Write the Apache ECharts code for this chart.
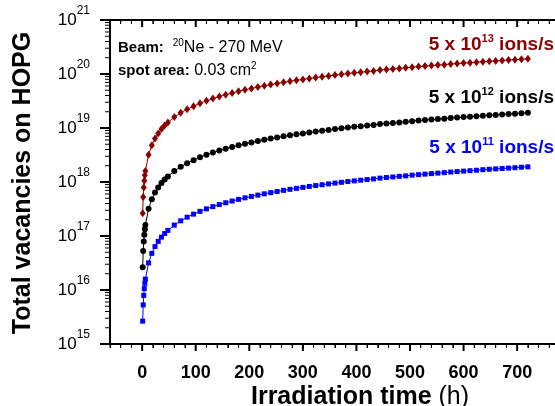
<!DOCTYPE html>
<html>
<head>
<meta charset="utf-8">
<script src="https://cdn.jsdelivr.net/npm/echarts@6/dist/echarts.min.js"></script>
<style>
  html, body { margin: 0; padding: 0; background: #fff; }
  #chart { width: 555px; height: 406px; }
</style>
</head>
<body>
<div id="chart"></div>
<script>
/* 数据：辐照时间 (h) */
const times = [1, 2, 3, 4, 5, 6, 12, 18, 24, 30, 36, 42, 48, 60, 72, 84, 96, 108, 120, 132, 144, 156, 168, 180, 192, 204, 216, 228, 240, 252, 264, 276, 288, 300, 312, 324, 336, 348, 360, 372, 384, 396, 408, 420, 432, 444, 456, 468, 480, 492, 504, 516, 528, 540, 552, 564, 576, 588, 600, 612, 624, 636, 648, 660, 672, 684, 696, 708, 720]

// 5 x 10^11 ions/s
const vac11 = [2.65e15, 5.30e15, 7.95e15, 1.06e16, 1.33e16, 1.59e16, 3.18e16, 4.77e16, 6.36e16, 7.95e16, 9.54e16, 1.11e17, 1.27e17, 1.59e17, 1.91e17, 2.23e17, 2.54e17, 2.86e17, 3.18e17, 3.50e17, 3.82e17, 4.13e17, 4.45e17, 4.77e17, 5.09e17, 5.41e17, 5.72e17, 6.04e17, 6.36e17, 6.68e17, 7.00e17, 7.31e17, 7.63e17, 7.95e17, 8.27e17, 8.59e17, 8.90e17, 9.22e17, 9.54e17, 9.86e17, 1.02e18, 1.05e18, 1.08e18, 1.11e18, 1.14e18, 1.18e18, 1.21e18, 1.24e18, 1.27e18, 1.30e18, 1.34e18, 1.37e18, 1.40e18, 1.43e18, 1.46e18, 1.49e18, 1.53e18, 1.56e18, 1.59e18, 1.62e18, 1.65e18, 1.69e18, 1.72e18, 1.75e18, 1.78e18, 1.81e18, 1.84e18, 1.88e18, 1.91e18]

// 5 x 10^12 ions/s
const vac12 = [2.65e16, 5.30e16, 7.95e16, 1.06e17, 1.33e17, 1.59e17, 3.18e17, 4.77e17, 6.36e17, 7.95e17, 9.54e17, 1.11e18, 1.27e18, 1.59e18, 1.91e18, 2.23e18, 2.54e18, 2.86e18, 3.18e18, 3.50e18, 3.82e18, 4.13e18, 4.45e18, 4.77e18, 5.09e18, 5.41e18, 5.72e18, 6.04e18, 6.36e18, 6.68e18, 7.00e18, 7.31e18, 7.63e18, 7.95e18, 8.27e18, 8.59e18, 8.90e18, 9.22e18, 9.54e18, 9.86e18, 1.02e19, 1.05e19, 1.08e19, 1.11e19, 1.14e19, 1.18e19, 1.21e19, 1.24e19, 1.27e19, 1.30e19, 1.34e19, 1.37e19, 1.40e19, 1.43e19, 1.46e19, 1.49e19, 1.53e19, 1.56e19, 1.59e19, 1.62e19, 1.65e19, 1.69e19, 1.72e19, 1.75e19, 1.78e19, 1.81e19, 1.84e19, 1.88e19, 1.91e19]

// 5 x 10^13 ions/s
const vac13 = [2.65e17, 5.30e17, 7.95e17, 1.06e18, 1.33e18, 1.59e18, 3.18e18, 4.77e18, 6.36e18, 7.95e18, 9.54e18, 1.11e19, 1.27e19, 1.59e19, 1.91e19, 2.23e19, 2.54e19, 2.86e19, 3.18e19, 3.50e19, 3.82e19, 4.13e19, 4.45e19, 4.77e19, 5.09e19, 5.41e19, 5.72e19, 6.04e19, 6.36e19, 6.68e19, 7.00e19, 7.31e19, 7.63e19, 7.95e19, 8.27e19, 8.59e19, 8.90e19, 9.22e19, 9.54e19, 9.86e19, 1.02e20, 1.05e20, 1.08e20, 1.11e20, 1.14e20, 1.18e20, 1.21e20, 1.24e20, 1.27e20, 1.30e20, 1.34e20, 1.37e20, 1.40e20, 1.43e20, 1.46e20, 1.49e20, 1.53e20, 1.56e20, 1.59e20, 1.62e20, 1.65e20, 1.69e20, 1.72e20, 1.75e20, 1.78e20, 1.81e20, 1.84e20, 1.88e20, 1.91e20]

// 刻度
const xMajorTicks = [0, 100, 200, 300, 400, 500, 600, 700]
const yMajorTicks = [1e15, 1e16, 1e17, 1e18, 1e19, 1e20, 1e21]
const yMinorMantissa = [2, 3, 4, 5, 6, 7, 8, 9]

const X_MIN = -60, X_MAX = 780
const Y_MIN = 1e15, Y_MAX = 1e21
const FONT = '"Liberation Sans", Arial, sans-serif'
const RED = '#8b0000', BLUE = '#0000ff'

// 次刻度：x 每 20 h，y 每个数量级 2..9
let xMinorTicks = []
for (let v = X_MIN; v <= X_MAX; v += 20) { if (v % 100 !== 0) xMinorTicks.push(v) }
let yMinorTicks = []
yMajorTicks.slice(0, -1).forEach(d => yMinorMantissa.forEach(m => yMinorTicks.push(m * d)))

const toPairs = vals => times.map((t, i) => [t, vals[i]])

const chart = echarts.init(document.getElementById('chart'), null, { renderer: 'canvas' })

const lineSeries = (vals, color, symbol, size) => ({
  type: 'line', data: toPairs(vals),
  symbol, symbolSize: size,
  lineStyle: { color, width: 1 },
  itemStyle: { color }
})

const bar = (x, y, width, height) => ({ type: 'rect', shape: { x, y, width, height }, style: { fill: '#000' } })

// 坐标框（底、顶、左）
const frameSeries = {
  type: 'custom', silent: true, clip: false,
  data: [[X_MIN, Y_MIN]],
  renderItem(params, api) {
    const lb = api.coord([X_MIN, Y_MIN])
    const rt = api.coord([X_MAX, Y_MAX])
    return {
      type: 'group',
      children: [
        bar(lb[0] - 1, lb[1] - 1, rt[0] - lb[0] + 2, 2),
        bar(lb[0] - 1, rt[1] - 1, rt[0] - lb[0] + 2, 2),
        bar(lb[0] - 1, rt[1] - 1, 2, lb[1] - rt[1] + 2)
      ]
    }
  }
}

// x 刻度：底部朝外，顶部朝内
const xTickSeries = (ticks, len, w) => ({
  type: 'custom', silent: true, clip: false,
  data: ticks.map(v => [v, Y_MIN]),
  renderItem(params, api) {
    const b = api.coord([api.value(0), Y_MIN])
    const t = api.coord([api.value(0), Y_MAX])
    return { type: 'group', children: [bar(b[0] - w / 2, b[1], w, len), bar(t[0] - w / 2, t[1], w, len)] }
  }
})

// y 刻度：左侧朝外
const yTickSeries = (ticks, len, w) => ({
  type: 'custom', silent: true, clip: false,
  data: ticks.map(v => [X_MIN, v]),
  renderItem(params, api) {
    const p = api.coord([X_MIN, api.value(1)])
    return bar(p[0] - len, p[1] - w / 2, len, w)
  }
})

const option = {
  animation: false,
  grid: { left: 110, top: 20, width: 450, height: 324, outerBoundsMode: 'none' },
  xAxis: [
    {
      type: 'value', position: 'bottom',
      min: X_MIN, max: X_MAX, interval: 20,
      axisLine: { onZero: false, lineStyle: { color: '#000', width: 2 } },
      axisTick: { length: 4, lineStyle: { color: '#000', width: 1 } },
      splitLine: { show: false },
      axisLabel: {
        margin: 20, color: '#000', fontSize: 18, fontWeight: 'bold', fontFamily: FONT,
        formatter: v => (v >= 0 && v % 100 === 0 && v <= 700) ? String(v) : ''
      }
    },
    {
      type: 'value', position: 'top',
      min: X_MIN, max: X_MAX, interval: 20,
      axisLine: { onZero: false, lineStyle: { color: '#000', width: 2 } },
      axisTick: { inside: true, length: 4, lineStyle: { color: '#000', width: 1 } },
      axisLabel: { show: false },
      splitLine: { show: false }
    }
  ],
  yAxis: {
    type: 'log', logBase: 10, min: Y_MIN, max: Y_MAX, splitNumber: 6,
    axisLine: { show: true, onZero: false, lineStyle: { color: '#000', width: 2 } },
    axisTick: { show: true, length: 10, lineStyle: { color: '#000', width: 2 } },
    splitLine: { show: false },
    axisLabel: {
      margin: 20, color: '#000', fontFamily: FONT,
      formatter: v => '{b|10}{s|' + Math.round(Math.log10(v)) + '}',
      rich: {
        b: { fontSize: 17, lineHeight: 30 },
        s: { fontSize: 12, lineHeight: 12, verticalAlign: 'top' }
      }
    }
  },
  series: [
    lineSeries(vac13, RED, 'diamond', [6, 8]),
    lineSeries(vac12, '#000', 'circle', 6),
    lineSeries(vac11, BLUE, 'rect', 5),
    frameSeries,
    xTickSeries(xMajorTicks, 7, 2),
    xTickSeries(xMinorTicks, 4, 1),
    yTickSeries(yMajorTicks, 10, 2),
    yTickSeries(yMinorTicks, 5, 1)
  ],
  graphic: [
    {
      // y 轴标题
      type: 'text', x: 23, y: 183, rotation: Math.PI / 2,
      style: { text: 'Total vacancies on HOPG', font: 'bold 25px ' + FONT, fill: '#000', align: 'center', verticalAlign: 'middle' }
    },
    {
      // x 轴标题
      type: 'text', x: 360, y: 397,
      style: {
        text: '{b|Irradiation time}{n| (h)}', align: 'center', verticalAlign: 'middle',
        rich: {
          b: { fontSize: 25, fontWeight: 'bold', fontFamily: FONT, fill: '#000', lineHeight: 28 },
          n: { fontSize: 25, fontFamily: FONT, fill: '#000', lineHeight: 28 }
        }
      }
    },
    {
      type: 'text', x: 118, y: 48,
      style: {
        text: '{b|Beam:}{n|  }{s|20}{n|Ne - 270 MeV}', verticalAlign: 'middle',
        rich: {
          b: { fontSize: 15, fontWeight: 'bold', fontFamily: FONT, fill: '#000', lineHeight: 20 },
          n: { fontSize: 16, fontFamily: FONT, fill: '#000', lineHeight: 20 },
          s: { fontSize: 10, fontFamily: FONT, fill: '#000', lineHeight: 10, verticalAlign: 'top' }
        }
      }
    },
    {
      type: 'text', x: 118, y: 71,
      style: {
        text: '{b|spot area:}{n| 0.03 cm}{s|2}', verticalAlign: 'middle',
        rich: {
          b: { fontSize: 15, fontWeight: 'bold', fontFamily: FONT, fill: '#000', lineHeight: 20 },
          n: { fontSize: 16, fontFamily: FONT, fill: '#000', lineHeight: 20 },
          s: { fontSize: 10, fontFamily: FONT, fill: '#000', lineHeight: 10, verticalAlign: 'top' }
        }
      }
    },
    ...[['13', RED, 45], ['12', '#000', 98], ['11', BLUE, 148]].map(([exp, color, y]) => ({
      type: 'text', x: 554, y,
      style: {
        text: '{m|5 x 10}{s|' + exp + '}{m| ions/s}', align: 'right', verticalAlign: 'middle',
        rich: {
          m: { fontSize: 19, fontWeight: 'bold', fontFamily: FONT, fill: color, lineHeight: 24 },
          s: { fontSize: 11, fontWeight: 'bold', fontFamily: FONT, fill: color, lineHeight: 12, verticalAlign: 'top' }
        }
      }
    }))
  ]
}

chart.setOption(option)
</script>
</body>
</html>
